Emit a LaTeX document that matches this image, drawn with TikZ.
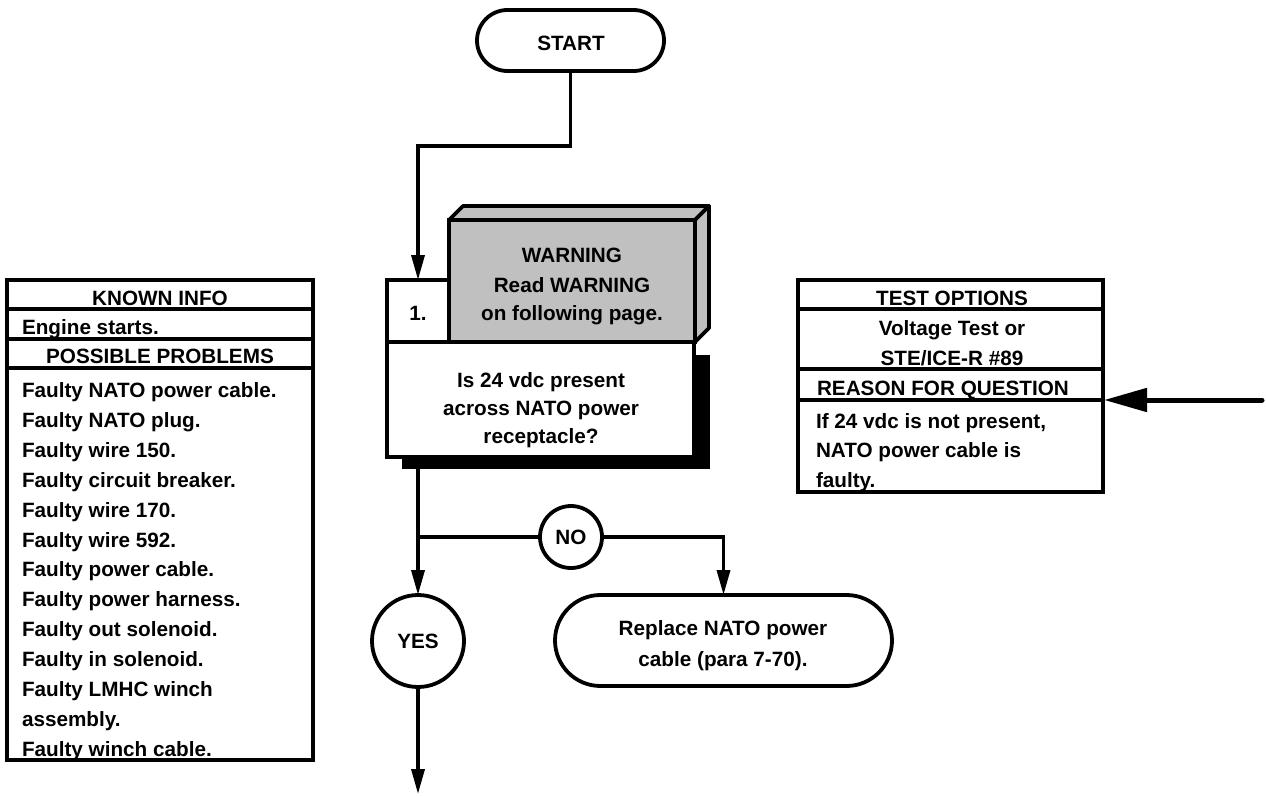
\documentclass[tikz,border=0pt]{standalone}
\usepackage{fontspec}
\setmainfont{Liberation Sans}
\usetikzlibrary{arrows.meta,calc,shapes.misc}
\definecolor{wgray}{RGB}{192,192,192}
\begin{document}
\begin{tikzpicture}[x=1pt,y=-1pt,
  every node/.style={font=\fontsize{20.7}{29}\selectfont\bfseries, inner sep=0pt, outer sep=0pt},
  lw/.style={line width=3.5pt},
  box/.style={draw, line width=4pt, rectangle},
  pill/.style={draw, line width=3.8pt, rounded rectangle},
  rnd/.style={draw, line width=3.8pt, circle},
  txt/.style={anchor=base},
  txtl/.style={anchor=base west},
  arr/.style={line width=3.5pt, -{Triangle[length=25pt,width=13pt]}},
  bigarr/.style={line width=5pt, line cap=round, -{Triangle[length=43pt,width=23pt]}}
]
\useasboundingbox (0,0) rectangle (1266,795);

% ---------- left table ----------
\node[box, minimum width=306pt, minimum height=29pt] (k1) at (160,294.5) {};
\node[box, minimum width=306pt, minimum height=30pt] (k2) at (160,324) {};
\node[box, minimum width=306pt, minimum height=29pt] (k3) at (160,353.5) {};
\node[box, minimum width=306pt, minimum height=392pt] (k4) at (160,564) {};
\node[txt] (k1t) at (160,305.5) {KNOWN INFO};
\node[txtl] (k2t) at (22,334) {Engine starts.};
\node[txt] (k3t) at (160,363) {POSSIBLE PROBLEMS};
\foreach \t [count=\i] in {Faulty NATO power cable., Faulty NATO plug., Faulty wire 150., Faulty circuit breaker., Faulty wire 170., Faulty wire 592., Faulty power cable., Faulty power harness., Faulty out solenoid., Faulty in solenoid., Faulty LMHC winch, assembly., Faulty winch cable.}
  \node[txtl] (pp\i) at (22,{397.5+29.9*(\i-1)}) {\t};

% ---------- right table ----------
\node[box, minimum width=305pt, minimum height=29pt] (t1) at (950.5,294.5) {};
\node[box, minimum width=305pt, minimum height=60pt] (t2) at (950.5,339) {};
\node[box, minimum width=305pt, minimum height=31pt] (t3) at (950.5,384.5) {};
\node[box, minimum width=305pt, minimum height=92pt] (t4) at (950.5,446) {};
\node[txt] (t1t) at (952,305.5) {TEST OPTIONS};
\node[txt] (t2a) at (952,335) {Voltage Test or};
\node[txt] (t2b) at (952,365) {STE/ICE-R \#89};
\node[txtl] (t3t) at (817,395) {REASON FOR QUESTION};
\node[txtl] (t4a) at (816,428) {If 24 vdc is not present,};
\node[txtl] (t4b) at (816,457) {NATO power cable is};
\node[txtl] (t4c) at (816,487) {faulty.};

% ---------- start ----------
\node[pill, minimum width=187pt, minimum height=61pt] (start) at (570.5,40.5) {};
\node[txt] (startt) at (571,50) {START};

% ---------- step 1 ----------
\fill (402,355) rectangle (710,469);
\filldraw[line width=3.8pt, fill=wgray, line join=round] (449,220) -- (463,206) -- (709,206) -- (695,220) -- cycle;
\filldraw[line width=3.8pt, fill=wgray, line join=round] (695,220) -- (709,206) -- (709,328) -- (695,342) -- cycle;
\node[box, fill=wgray, minimum width=246pt, minimum height=122pt] (wf) at (572,281) {};
\node[box, fill=white, minimum width=62pt, minimum height=62pt] (one) at (418,311) {};
\node[box, fill=white, minimum width=307pt, minimum height=115pt] (q) at (540.5,399.5) {};
\node[txt] (onet) at (418,320) {1.};
\node[txt] (w1) at (572,262) {WARNING};
\node[txt] (w2) at (572,292) {Read WARNING};
\node[txt] (w3) at (572,320) {on following page.};
\node[txt] (q1) at (541,387) {Is 24 vdc present};
\node[txt] (q2) at (541,415) {across NATO power};
\node[txt] (q3) at (541,443) {receptacle?};

% ---------- answers ----------
\node[rnd, fill=white, minimum size=62pt] (no) at (571,537) {NO};
\node[rnd, fill=white, minimum size=92pt] (yes) at (418,641) {YES};
\node[pill, minimum width=337pt, minimum height=91pt] (rep) at (723.5,640.5) {};
\node[txt] (r1) at (723,635) {Replace NATO power};
\node[txt] (r2) at (723,666) {cable (para 7-70).};

% ---------- connectors ----------
\coordinate (bend) at (418,146);
\draw[arr] (start.south) |- (bend) -- (one.north);
\coordinate (qout) at (418,469);
\coordinate (jn) at (418,537);
\draw[lw] (qout) -- (jn) -- (no.west);
\draw[arr] (no.east) -| (rep.north);
\draw[arr] (jn) -- (yes.north);
\coordinate (endp) at (418,794);
\draw[arr] (yes.south) -- (endp);
\coordinate (rin) at (1262,400);
\coordinate (rtip) at (1104,400);
\draw[bigarr] (rin) -- (rtip);
\end{tikzpicture}
\end{document}
